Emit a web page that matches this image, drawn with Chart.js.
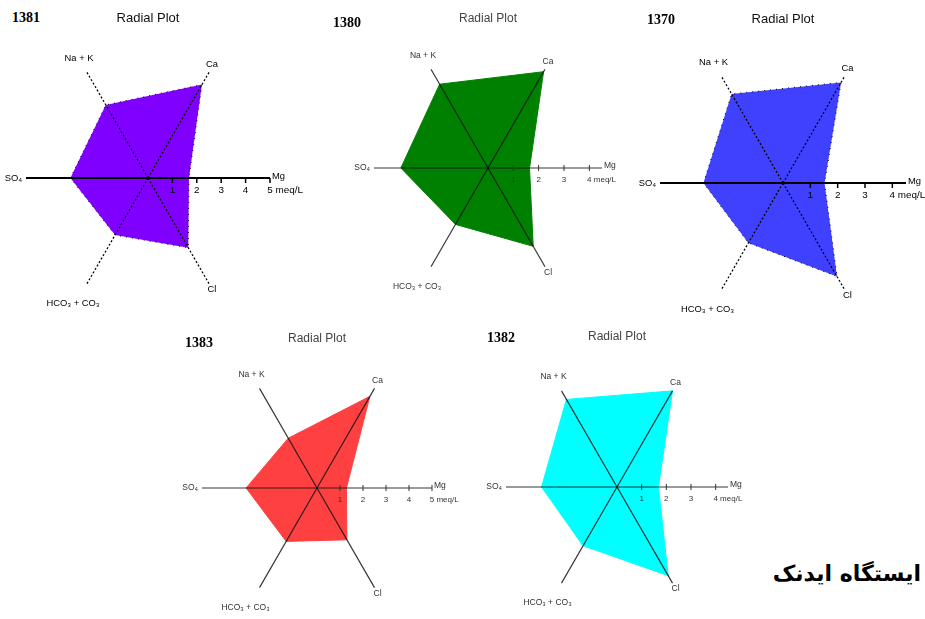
<!DOCTYPE html>
<html>
<head>
<meta charset="utf-8">
<script src="https://cdn.jsdelivr.net/npm/chart.js@4.4.1/dist/chart.umd.min.js"></script>
<style>
  html, body { margin: 0; padding: 0; background: #fff; }
  #page { position: relative; width: 925px; height: 619px; overflow: hidden; background: #fff; }
  #page canvas { position: absolute; left: 0; top: 0; }
  .year { position: absolute; font: bold 14px "Liberation Serif", "DejaVu Serif", serif; color: #000; line-height: 16px; }
  .station { position: absolute; right: 4px; top: 561px; font: bold 22px "DejaVu Sans", sans-serif; direction: rtl; color: #000; white-space: nowrap; }
</style>
</head>
<body>
<div id="page">
  <div class="station">ایستگاه ایدنک</div>
</div>
<script>
// Ion axes, listed clockwise starting from the right-hand Mg axis
const ions = ['Mg', 'Cl', 'HCO₃ + CO₃', 'SO₄', 'Na + K', 'Ca'];

// Concentrations in meq/L, same order as `ions`
const ions1381 = [1.68, 3.30, 2.70, 3.18, 3.46, 4.42];
const ions1380 = [1.64, 3.57, 2.57, 3.44, 3.82, 4.39];
const ions1370 = [1.52, 3.95, 2.53, 2.91, 3.76, 4.25];
const ions1383 = [1.28, 2.60, 2.68, 3.08, 2.50, 4.60];
const ions1382 = [1.68, 4.15, 2.75, 3.06, 4.10, 4.50];

// Scale ticks printed along the Mg axis
const ticksTo5 = [1, 2, 3, 4, 5];
const ticksTo4 = [1, 2, 3, 4];
const unitLabel = 'meq/L';
const titleText = 'Radial Plot';

// Panel placement and styling
const W = 925, H = 619;
const panels = [
  { year: '1381', values: ions1381, max: 5,   ticks: ticksTo5, cx: 148, cy: 178, r: 122,
    fill: '#8000ff', look: 'coarse', yearPos: [12, 10],  titleY: 18,  fontScale: 1.1 },
  { year: '1380', values: ions1380, max: 4.5, ticks: ticksTo4, cx: 488, cy: 168, r: 114,
    fill: '#008000', look: 'fine',   yearPos: [333, 15], titleY: 19,  fontScale: 1.0 },
  { year: '1370', values: ions1370, max: 4.5, ticks: ticksTo4, cx: 783, cy: 183, r: 123,
    fill: '#4040ff', look: 'coarse', yearPos: [647, 12], titleY: 19,  fontScale: 1.1 },
  { year: '1383', values: ions1383, max: 5,   ticks: ticksTo5, cx: 317, cy: 488, r: 115,
    fill: '#ff4040', look: 'fine',   yearPos: [185, 335], titleY: 339, fontScale: 1.0 },
  { year: '1382', values: ions1382, max: 4.5, ticks: ticksTo4, cx: 617, cy: 487, r: 111,
    fill: '#00ffff', look: 'fine',   yearPos: [487, 330], titleY: 337, fontScale: 1.0 }
];

const SANS = '"Liberation Sans", Arial, sans-serif';

// Draws the title, axis-end names and the Mg-axis tick scale on top of the radar
const radialDecor = {
  id: 'radialDecor',
  afterDraw(chart, args, o) {
    const s = chart.scales.r;
    const ctx = chart.ctx;
    const coarse = o.look === 'coarse';
    const ink = coarse ? '#000' : '#333';
    const fs = o.fontScale;
    ctx.save();

    // title
    ctx.fillStyle = coarse ? '#111' : '#444';
    ctx.font = `${Math.round(11.5 * fs)}px ${SANS}`;
    ctx.textAlign = 'center';
    ctx.textBaseline = 'middle';
    ctx.fillText(titleText, s.xCenter, o.titleY);

    // axis-end names
    ctx.fillStyle = ink;
    ctx.font = `${(8.5 * fs).toFixed(1)}px ${SANS}`;
    const place = [
      { dx: 2,   dy: -2, align: 'left' },    // Mg
      { dx: 3,   dy: 6,  align: 'center' },  // Cl
      { dx: -14, dy: 20, align: 'center' },  // HCO3 + CO3
      { dx: -4,  dy: 0,  align: 'right' },   // SO4
      { dx: -8,  dy: -14, align: 'center' }, // Na + K
      { dx: 3,   dy: -8, align: 'center' }   // Ca
    ];
    ions.forEach((name, i) => {
      const p = s.getPointPosition(i, s.drawingArea);
      ctx.textAlign = place[i].align;
      ctx.fillText(name, p.x + place[i].dx, p.y + place[i].dy);
    });

    // tick marks and values along the Mg axis
    ctx.strokeStyle = ink;
    ctx.lineWidth = coarse ? 1.5 : 1;
    ctx.font = `${(coarse ? 9 * fs : 8).toFixed(1)}px ${SANS}`;
    ctx.textBaseline = 'middle';
    o.ticks.forEach((v, k) => {
      const p = s.getPointPosition(0, s.getDistanceFromCenterForValue(v));
      ctx.beginPath();
      if (coarse) { ctx.moveTo(p.x, p.y); ctx.lineTo(p.x, p.y + 5); }
      else { ctx.moveTo(p.x, p.y - 3); ctx.lineTo(p.x, p.y + 3); }
      ctx.stroke();
      const num = String(v);
      const last = k === o.ticks.length - 1;
      const ty = p.y + 12;
      if (last) {
        ctx.textAlign = 'left';
        ctx.fillText(num + ' ' + unitLabel, p.x - ctx.measureText(num).width / 2, ty);
      } else {
        ctx.textAlign = 'center';
        ctx.fillText(num, p.x, ty);
      }
    });
    ctx.restore();
  }
};

const page = document.getElementById('page');

panels.forEach(pn => {
  const yl = document.createElement('div');
  yl.className = 'year';
  yl.textContent = pn.year;
  yl.style.left = pn.yearPos[0] + 'px';
  yl.style.top = pn.yearPos[1] + 'px';
  page.appendChild(yl);

  const cv = document.createElement('canvas');
  cv.width = W; cv.height = H;
  cv.style.width = W + 'px'; cv.style.height = H + 'px';
  page.appendChild(cv);

  const coarse = pn.look === 'coarse';
  new Chart(cv, {
    type: 'radar',
    data: {
      labels: ions,
      datasets: [{
        label: pn.year,
        data: pn.values,
        backgroundColor: pn.fill,
        borderColor: coarse ? '#000' : pn.fill,
        borderWidth: 1,
        borderDash: coarse ? [1, 5] : [],
        pointRadius: 0,
        fill: 'start',
        tension: 0
      }]
    },
    options: {
      responsive: false,
      animation: false,
      devicePixelRatio: 1,
      layout: {
        padding: {
          left: pn.cx - pn.r,
          top: pn.cy - pn.r,
          right: W - pn.cx - pn.r,
          bottom: H - pn.cy - pn.r
        }
      },
      events: [],
      plugins: {
        legend: { display: false },
        tooltip: { enabled: false },
        radialDecor: { look: pn.look, ticks: pn.ticks, titleY: pn.titleY, fontScale: pn.fontScale }
      },
      scales: {
        r: {
          min: 0,
          max: pn.max,
          startAngle: 90,
          ticks: { display: false, z: 1, stepSize: 1 },
          // grid layer (which also carries the angle lines) sits above the filled polygon
          grid: { display: false, z: 1 },
          pointLabels: { display: false },
          angleLines: {
            display: true,
            color: coarse ? '#000' : 'rgba(20,20,20,0.85)',
            lineWidth: (c) => (c.index % 3 === 0 ? (coarse ? 2 : 1.2) : (coarse ? 1.3 : 1.2)),
            borderDash: (c) => (coarse && c.index % 3 !== 0 ? [2, 2] : [])
          }
        }
      }
    },
    plugins: [radialDecor]
  });
});
</script>
</body>
</html>
